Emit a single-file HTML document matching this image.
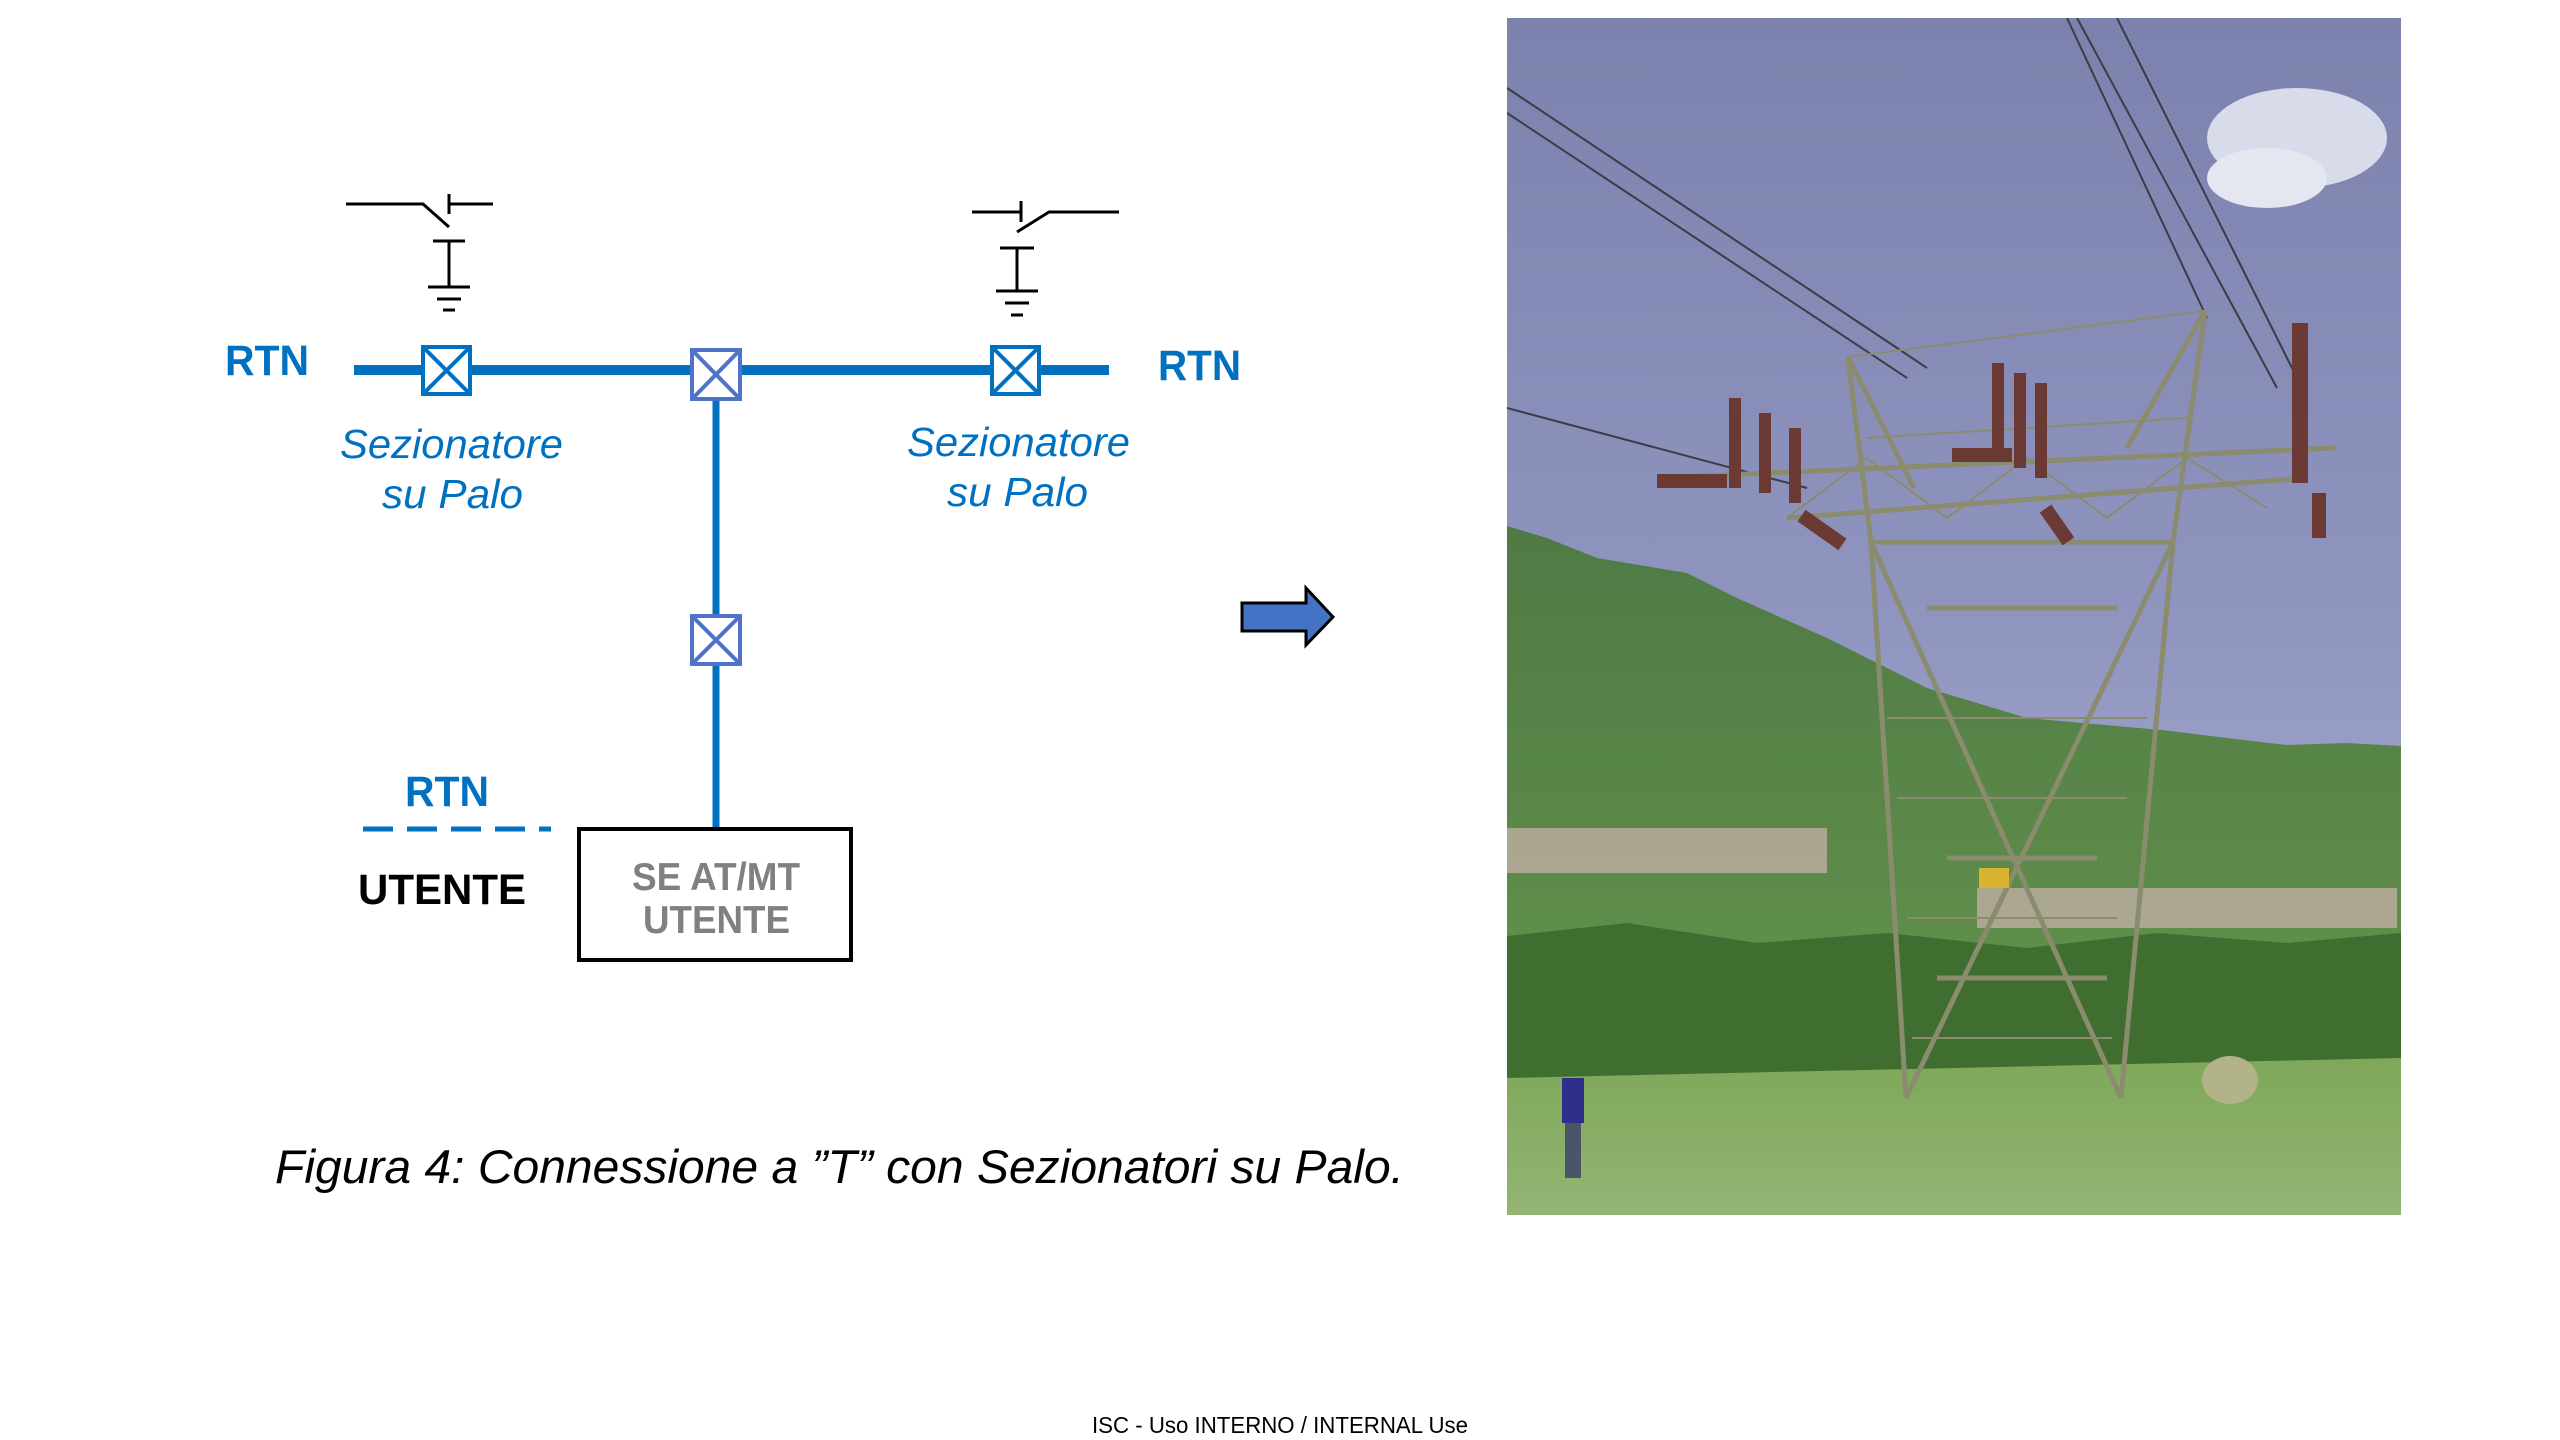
<!DOCTYPE html>
<html><head><meta charset="utf-8"><style>
html,body{margin:0;padding:0;background:#fff;}
svg{display:block;}
text{font-family:"Liberation Sans",sans-serif;}
</style></head><body>
<svg width="2560" height="1440" viewBox="0 0 2560 1440" xmlns="http://www.w3.org/2000/svg">
<rect width="2560" height="1440" fill="#fff"/>
<g stroke="#000" stroke-width="3" fill="none">
<polyline points="346,204 423,204 449,227"/>
<line x1="449" y1="194" x2="449" y2="214"/>
<line x1="449" y1="204" x2="493" y2="204"/>
<line x1="433" y1="241" x2="465" y2="241"/>
<line x1="449" y1="241" x2="449" y2="287"/>
<line x1="428" y1="287" x2="470" y2="287"/>
<line x1="437" y1="299" x2="461" y2="299"/>
<line x1="443" y1="310" x2="455" y2="310"/>
<line x1="972" y1="212" x2="1021" y2="212"/>
<line x1="1021" y1="201" x2="1021" y2="222"/>
<polyline points="1017,232 1049,212 1119,212"/>
<line x1="1000" y1="248" x2="1034" y2="248"/>
<line x1="1017" y1="248" x2="1017" y2="291"/>
<line x1="996" y1="291" x2="1038" y2="291"/>
<line x1="1005" y1="303" x2="1029" y2="303"/>
<line x1="1011" y1="315" x2="1023" y2="315"/>
</g>
<line x1="354" y1="370" x2="1109" y2="370" stroke="#0070c0" stroke-width="10"/>
<line x1="716" y1="374" x2="716" y2="828" stroke="#0070c0" stroke-width="7"/>
<line x1="363" y1="829" x2="551" y2="829" stroke="#0070c0" stroke-width="5" stroke-dasharray="30,14"/>
<g fill="#fff" stroke-width="4">
<g stroke="#0070c0"><rect x="423" y="347" width="47" height="47"/><line x1="423" y1="347" x2="470" y2="394"/><line x1="470" y1="347" x2="423" y2="394"/></g>
<g stroke="#0070c0"><rect x="992" y="347" width="47" height="47"/><line x1="992" y1="347" x2="1039" y2="394"/><line x1="1039" y1="347" x2="992" y2="394"/></g>
<g stroke="#4f73c8"><rect x="692" y="350" width="48" height="49"/><line x1="692" y1="350" x2="740" y2="399"/><line x1="740" y1="350" x2="692" y2="399"/></g>
<g stroke="#4f73c8"><rect x="692" y="616" width="48" height="48"/><line x1="692" y1="616" x2="740" y2="664"/><line x1="740" y1="616" x2="692" y2="664"/></g>
</g>
<rect x="579" y="829" width="272" height="131" fill="#fff" stroke="#000" stroke-width="4"/>
<g font-weight="bold" fill="#0070c0" font-size="43">
<text x="225" y="375" textLength="84" lengthAdjust="spacingAndGlyphs">RTN</text>
<text x="1158" y="380" textLength="83" lengthAdjust="spacingAndGlyphs">RTN</text>
<text x="405" y="806" textLength="84" lengthAdjust="spacingAndGlyphs">RTN</text>
</g>
<text x="358" y="904" font-size="43" font-weight="bold" fill="#000" textLength="168" lengthAdjust="spacingAndGlyphs">UTENTE</text>
<g font-weight="bold" fill="#808080" font-size="39">
<text x="632" y="890" textLength="168" lengthAdjust="spacingAndGlyphs">SE AT/MT</text>
<text x="643" y="933" textLength="147" lengthAdjust="spacingAndGlyphs">UTENTE</text>
</g>
<g font-style="italic" fill="#0070c0" font-size="41">
<text x="340" y="458" textLength="223" lengthAdjust="spacingAndGlyphs">Sezionatore</text>
<text x="382" y="508" textLength="141" lengthAdjust="spacingAndGlyphs">su Palo</text>
<text x="907" y="456" textLength="223" lengthAdjust="spacingAndGlyphs">Sezionatore</text>
<text x="947" y="506" textLength="141" lengthAdjust="spacingAndGlyphs">su Palo</text>
</g>
<polygon points="1242,603 1306,603 1306,588 1333,617 1306,645 1306,631 1242,631" fill="#4472c4" stroke="#000" stroke-width="3"/>
<text x="275" y="1183" font-size="47" font-style="italic" fill="#000" textLength="1129" lengthAdjust="spacingAndGlyphs">Figura 4: Connessione a ”T” con Sezionatori su Palo.</text>
<text x="1092" y="1433" font-size="23" fill="#000" textLength="376" lengthAdjust="spacingAndGlyphs">ISC - Uso INTERNO / INTERNAL Use</text>
<svg x="1507" y="18" width="894" height="1197" viewBox="0 0 894 1197">
<defs>
<linearGradient id="sky" x1="0" y1="0" x2="0" y2="1">
<stop offset="0" stop-color="#7c82ad"/><stop offset="0.5" stop-color="#8f95bf"/><stop offset="1" stop-color="#b3b8d6"/>
</linearGradient>
<linearGradient id="mtn" x1="0" y1="0" x2="0" y2="1">
<stop offset="0" stop-color="#4f7a45"/><stop offset="1" stop-color="#6a9a4e"/>
</linearGradient>
<linearGradient id="grass" x1="0" y1="0" x2="0" y2="1">
<stop offset="0" stop-color="#7ea85a"/><stop offset="1" stop-color="#94b474"/>
</linearGradient>
</defs>
<rect width="894" height="1197" fill="url(#sky)"/>
<ellipse cx="790" cy="120" rx="90" ry="50" fill="#d8dbe9"/>
<ellipse cx="760" cy="160" rx="60" ry="30" fill="#e4e6f0"/>
<path d="M0,508 L40,520 L90,540 L180,555 L230,580 L320,620 L420,670 L520,700 L655,712 L720,720 L780,727 L840,725 L894,728 L894,1197 L0,1197Z" fill="url(#mtn)"/>
<g fill="#b8ac9c" opacity="0.85">
<rect x="0" y="810" width="320" height="45"/><rect x="470" y="870" width="420" height="40"/>
</g>
<path d="M0,918 L120,905 L250,925 L380,915 L520,930 L650,915 L780,925 L894,915 L894,1072 L0,1072Z" fill="#3f6e30"/>
<path d="M0,1060 L894,1040 L894,1197 L0,1197Z" fill="url(#grass)"/>
<ellipse cx="723" cy="1062" rx="28" ry="24" fill="#b3b38a"/>
<rect x="55" y="1060" width="22" height="45" fill="#2d2f8a"/>
<rect x="58" y="1105" width="16" height="55" fill="#4a5568"/>
<g stroke="#3c3c46" stroke-width="2" fill="none">
<line x1="0" y1="70" x2="420" y2="350"/><line x1="0" y1="95" x2="400" y2="360"/>
<line x1="0" y1="390" x2="300" y2="470"/>
<line x1="570" y1="0" x2="770" y2="370"/><line x1="610" y1="0" x2="790" y2="360"/>
<line x1="560" y1="0" x2="700" y2="300"/>
</g>
<g stroke="#8b8b6e" stroke-width="5" fill="none">
<polyline points="399,1080 364,524 341,339 407,470"/>
<polyline points="614,1080 666,524 698,293 620,430"/>
<polyline points="150,460 829,430"/>
<polyline points="280,500 800,460"/>
<line x1="364" y1="524" x2="666" y2="524"/>
<line x1="420" y1="590" x2="610" y2="590"/>
<line x1="364" y1="524" x2="614" y2="1080"/>
<line x1="666" y1="524" x2="399" y2="1080"/>
<line x1="440" y1="840" x2="590" y2="840"/>
<line x1="430" y1="960" x2="600" y2="960"/>
</g>
<g stroke="#8b8b6e" stroke-width="2" fill="none">
<path d="M280,500 L360,440 L440,500 L520,440 L600,500 L680,440 L760,490"/>
<path d="M380,700 L640,700 M390,780 L620,780 M400,900 L610,900 M405,1020 L605,1020"/>
<path d="M341,339 L698,293 M360,420 L680,400"/>
</g>
<g fill="#6b3a34">
<rect x="222" y="380" width="12" height="90"/><rect x="252" y="395" width="12" height="80"/><rect x="282" y="410" width="12" height="75"/>
<rect x="485" y="345" width="12" height="95"/><rect x="507" y="355" width="12" height="95"/><rect x="528" y="365" width="12" height="95"/>
<rect x="785" y="305" width="16" height="160"/><rect x="805" y="475" width="14" height="45"/>
<rect x="150" y="456" width="70" height="14"/><rect x="445" y="430" width="60" height="14"/>
<rect x="290" y="505" width="50" height="14" transform="rotate(35 315 512)"/>
<rect x="530" y="500" width="40" height="14" transform="rotate(55 550 507)"/>
</g>
<rect x="472" y="850" width="30" height="20" fill="#d8b430"/>
</svg>
</svg>
</body></html>
